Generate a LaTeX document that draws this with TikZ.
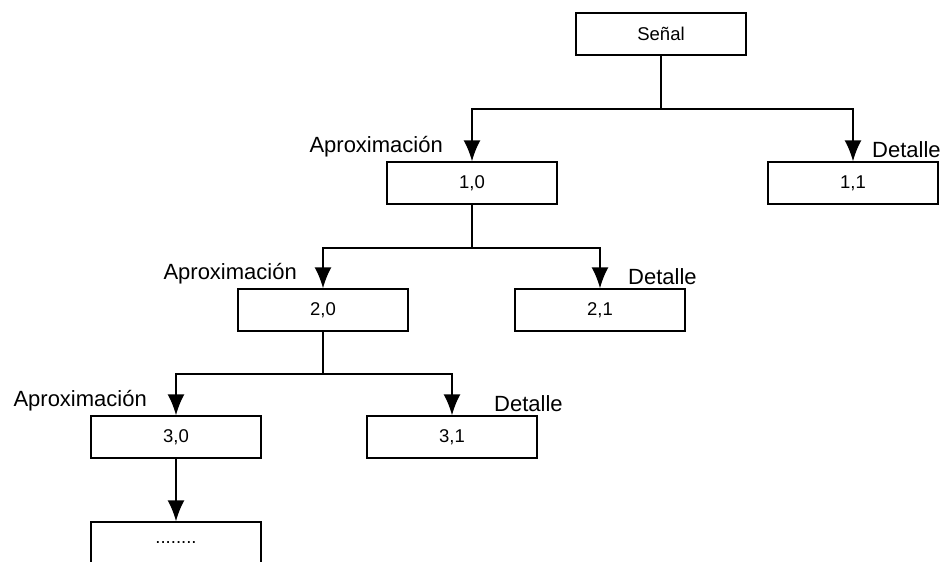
\documentclass[tikz,border=0pt]{standalone}
\usepackage{fontspec}
\setmainfont{Liberation Sans}
\usetikzlibrary{arrows.meta,
                positioning}
\tikzset{block/.style=
   {rectangle,
    draw,
    line width=1.5pt,
    text centered,
    minimum width=170pt,
    minimum height=42pt,
    font=\fontsize{18.5}{22}\selectfont}}
\tikzset{tag/.style={inner sep=0pt, font=\fontsize{22}{26}\selectfont}}
\tikzset{line/.style = {draw, line width=1.5pt}}
\tikzset{arrow/.style = {draw, line width=1.5pt, -{Latex[length=21pt, width=17pt]}}}

\begin{document}
\begin{tikzpicture}[x=1pt, y=-1pt]
    \useasboundingbox (0,0) rectangle (940,562);

    % Blocks
    \node [block] (senal) at (661,34) {Señal};
    \node [block] (a10) at (472,183) {1,0};
    \node [block] (d11) at (853,183) {1,1};
    \node [block] (a20) at (323,310) {2,0};
    \node [block] (d21) at (600,310) {2,1};
    \node [block] (a30) at (176,437) {3,0};
    \node [block] (d31) at (452,437) {3,1};
    \node [block] (dots) at (176,543) {........};

    % Labels
    \node [tag, anchor=base east] (aprox1) at (443,152) {Aproximación};
    \node [tag, anchor=base west] (det1) at (872,157) {Detalle};
    \node [tag, anchor=base east] (aprox2) at (297,279) {Aproximación};
    \node [tag, anchor=base west] (det2) at (628,284) {Detalle};
    \node [tag, anchor=base east] (aprox3) at (147,406) {Aproximación};
    \node [tag, anchor=base west] (det3) at (494,411) {Detalle};

    % Draw edges

    \path [line]
    (senal.south) -- ++(0,53) coordinate (split1);
    \path [arrow]
    (split1) -| (a10.north);
    \path [arrow]
    (split1) -| (d11.north);

    \path [line]
    (a10.south) -- ++(0,43) coordinate (split2);
    \path [arrow]
    (split2) -| (a20.north);
    \path [arrow]
    (split2) -| (d21.north);

    \path [line]
    (a20.south) -- ++(0,42) coordinate (split3);
    \path [arrow]
    (split3) -| (a30.north);
    \path [arrow]
    (split3) -| (d31.north);

    \path [arrow]
    (a30.south) -- (dots.north);

\end{tikzpicture}
\end{document}
